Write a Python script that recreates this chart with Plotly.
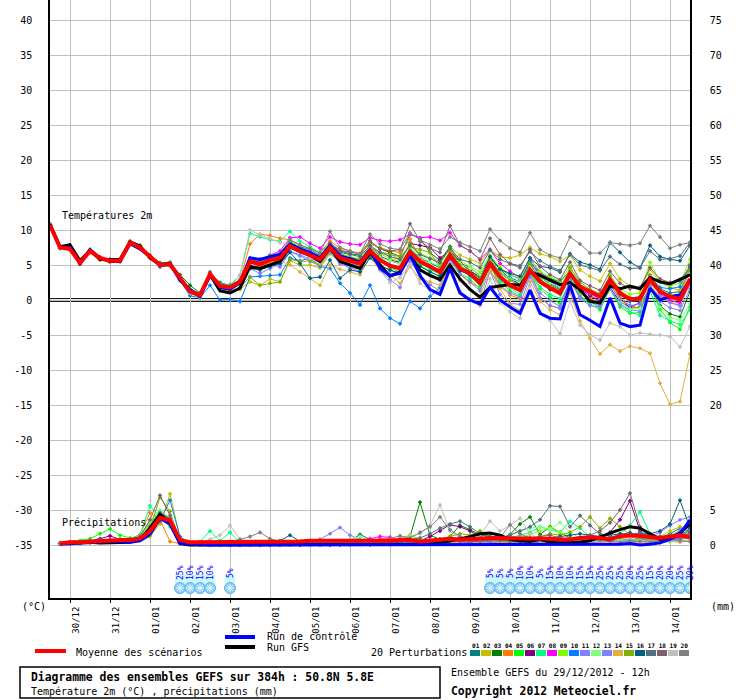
import pandas as pd
import plotly.graph_objects as go

MONO = 'DejaVu Sans Mono'

# GEFS run of 29/12/2012 12h, one step every 6h up to 384h
times = pd.date_range('2012-12-29 12:00', periods=65, freq='6h')
day_ticks = pd.date_range('2012-12-30', '2013-01-14', freq='D')
day_labels = [d.strftime('%d/%m') for d in day_ticks]

temp_ticks = [40, 35, 30, 25, 20, 15, 10, 5, 0, -5, -10, -15, -20, -25, -30, -35]
right_ticks = [75, 70, 65, 60, 55, 50, 45, 40, 35, 30, 25, 20, 5, 0]

# ---- 2m temperature (°C) ----
mean_t = [10.7, 7.5, 7.3, 5.3, 7.0, 6.0, 5.6, 5.6, 8.2, 7.5, 6.2, 5.0, 5.1,
          3.1, 1.2, 0.7, 3.7, 2.0, 1.8, 2.6, 5.5, 5.1, 5.7, 6.0, 7.7, 7.0,
          6.4, 5.8, 7.5, 6.0, 5.6, 5.2, 7.0, 5.7, 4.9, 4.5, 6.9, 5.5, 4.8,
          4.0, 6.4, 4.5, 3.8, 2.4, 5.2, 3.3, 2.1, 1.4, 4.3, 2.6, 1.7, 1.0,
          3.8, 1.9, 1.2, 0.5, 2.9, 1.0, 0.1, 0.2, 2.9, 1.2, 0.5, 0.1, 3.0]
gfs_t = [10.8, 7.6, 7.9, 5.6, 7.1, 5.8, 5.8, 5.8, 8.3, 7.7, 6.0, 5.0, 5.2,
         3.0, 1.4, 0.6, 3.6, 1.3, 1.0, 1.7, 4.8, 4.5, 5.0, 5.5, 7.6, 6.9,
         6.4, 5.5, 7.4, 5.5, 5.0, 4.5, 6.8, 5.0, 3.4, 4.0, 6.4, 4.3, 3.5,
         2.9, 5.0, 3.0, 1.5, 0.4, 1.8, 2.0, 2.2, 2.1, 4.0, 3.5, 2.8, 2.2,
         2.5, 1.5, -0.2, -0.4, 2.0, 1.6, 2.0, 1.6, 3.2, 2.6, 2.3, 2.9, 3.6]
ctrl_t = [10.8, 7.5, 7.5, 5.2, 7.2, 6.0, 5.5, 5.5, 8.0, 7.3, 6.2, 5.0, 5.2,
          2.8, 1.5, 0.5, 3.5, 1.8, 1.5, 2.5, 6.0, 5.8, 6.2, 6.5, 8.0, 7.3,
          6.8, 6.0, 7.8, 6.3, 5.9, 5.4, 7.2, 4.5, 3.5, 3.8, 6.5, 3.5, 1.5,
          0.8, 4.5, 1.0, 0.0, -0.6, 1.8, 0.0, -1.0, -1.9, 1.4, -1.9, -2.6, -2.7,
          2.1, -2.1, -2.9, -3.8, 0.3, -3.3, -3.8, -3.6, 1.7, 0.0, 0.5, 0.7, 2.9]

t01 = [10.6, 7.6, 7.2, 5.4, 7.1, 5.9, 5.7, 5.5, 8.1, 7.4, 6.3, 5.1, 5.0,
       3.2, 1.5, 0.9, 3.9, 2.4, 2.1, 2.9, 6.0, 5.8, 6.3, 6.5, 8.1, 7.6,
       7.2, 6.4, 7.9, 6.6, 6.1, 5.7, 7.6, 6.3, 5.6, 5.2, 7.3, 6.0, 5.3,
       4.6, 6.9, 5.3, 4.6, 3.5, 6.1, 4.4, 3.6, 3.0, 5.3, 3.9, 3.1, 2.6,
       4.2, 2.0, 1.2, 0.4, 3.0, 1.0, 0.2, 0.5, 3.4, 1.6, 1.0, 1.2, 4.6]
t02 = [10.8, 7.4, 7.4, 5.2, 6.9, 6.1, 5.5, 5.7, 8.3, 7.6, 6.1, 4.9, 5.2,
       3.0, 0.9, 0.4, 3.4, 1.6, 1.2, 1.5, 2.6, 2.1, 3.0, 2.6, 5.6, 5.0,
       5.0, 4.6, 6.6, 5.4, 5.2, 5.0, 7.5, 6.8, 6.6, 5.8, 7.8, 6.5, 6.0,
       5.5, 7.6, 6.4, 5.8, 5.3, 7.2, 6.2, 6.0, 6.4, 7.5, 6.6, 6.2, 5.5,
       6.4, 4.3, 3.4, 2.7, 5.2, 3.0, 2.0, 1.5, 4.4, 2.5, 1.8, 1.4, 4.8]
t03 = [10.7, 7.5, 7.5, 5.4, 7.2, 6.0, 5.8, 5.8, 8.4, 7.8, 6.4, 5.3, 5.4,
       3.6, 2.1, 1.0, 3.8, 2.5, 2.0, 2.4, 5.0, 4.7, 5.2, 5.8, 8.3, 7.3,
       6.7, 6.2, 8.1, 7.0, 6.6, 6.4, 8.2, 7.3, 6.8, 6.2, 9.4, 8.8, 6.8,
       5.6, 7.6, 5.4, 4.1, 3.4, 6.1, 4.4, 3.0, 2.4, 4.9, 3.3, 2.2, 1.4,
       3.6, 1.2, 0.2, -0.6, 2.3, 0.3, -1.2, -1.0, 2.0, -0.8, -2.0, -2.4, 1.2]
t04 = [10.7, 7.4, 7.2, 5.3, 6.8, 5.7, 5.4, 5.5, 8.0, 7.3, 6.0, 4.8, 5.0,
       2.9, 1.0, 0.6, 3.5, 1.8, 1.6, 2.8, 8.0, 9.4, 9.2, 8.8, 8.6, 7.8,
       7.4, 6.8, 8.4, 7.4, 7.0, 6.6, 8.0, 7.5, 7.0, 6.8, 8.7, 6.0, 4.9,
       4.3, 6.6, 3.6, 2.5, 1.8, 5.0, 2.0, 0.7, 0.2, 4.4, 0.3, -0.8, -1.2,
       2.6, 0.9, 0.3, -0.4, 2.2, 0.4, -0.8, -1.2, 2.1, 0.5, -0.3, -0.8, 2.4]
t05 = [10.6, 7.5, 7.3, 5.2, 7.1, 6.1, 5.6, 5.7, 8.2, 7.6, 6.1, 4.9, 5.1,
       3.0, 1.1, 0.5, 3.6, 2.0, 1.7, 2.5, 5.8, 5.5, 6.1, 6.4, 8.6, 7.4,
       6.7, 6.1, 7.9, 6.2, 5.8, 5.4, 7.1, 5.6, 4.6, 4.0, 6.5, 4.9, 4.1,
       3.3, 5.9, 3.8, 3.0, 1.6, 4.8, 2.6, 1.3, 0.5, 3.9, 1.6, 0.4, -0.5,
       2.8, 0.4, -0.6, -1.4, 1.6, -1.0, -1.9, -1.8, 2.0, -1.3, -3.2, -4.2, -1.0]
t06 = [10.8, 7.6, 7.4, 5.3, 7.0, 6.0, 5.6, 5.6, 8.2, 7.5, 6.2, 5.0, 5.1,
       3.1, 1.3, 0.8, 3.8, 2.2, 1.9, 2.7, 5.7, 5.3, 5.9, 6.2, 7.9, 7.1,
       6.6, 6.0, 7.6, 6.2, 5.9, 5.6, 7.3, 6.1, 5.7, 5.4, 8.1, 7.8, 7.5,
       6.0, 7.1, 5.4, 4.3, 3.0, 5.6, 4.0, 3.0, 2.2, 5.3, 2.8, 1.5, 0.9,
       4.3, 1.5, 0.6, -0.2, 1.8, -0.3, -1.0, -0.4, 3.4, 1.2, 0.5, 0.2, 2.8]
t07 = [10.6, 7.4, 7.2, 5.4, 7.0, 6.0, 5.7, 5.6, 8.1, 7.5, 6.2, 5.1, 5.1,
       3.2, 1.5, 0.8, 4.0, 2.3, 2.2, 3.5, 9.5, 9.0, 8.6, 8.4, 9.8, 8.4,
       7.6, 6.8, 8.0, 6.4, 6.0, 5.5, 7.2, 5.8, 5.0, 4.4, 7.0, 5.3, 4.4,
       3.7, 6.3, 4.4, 3.4, 2.0, 5.0, 2.8, 1.8, 0.8, 3.9, 1.9, 0.8, 0.2,
       3.4, 0.6, -0.3, -1.0, 1.7, -0.7, -1.7, -2.2, 1.3, -2.2, -3.0, -3.5, -1.4]
t08 = [10.8, 7.5, 7.3, 5.2, 6.9, 5.9, 5.5, 5.7, 8.1, 7.4, 6.2, 5.0, 5.2,
       3.3, 1.2, 0.9, 3.6, 2.1, 1.9, 2.6, 5.9, 5.6, 6.4, 7.0, 8.9, 9.0,
       8.1, 7.4, 9.0, 8.3, 8.0, 7.9, 8.9, 8.5, 8.4, 8.6, 9.4, 8.9, 9.0,
       8.5, 9.6, 7.8, 7.0, 5.8, 7.2, 5.2, 4.1, 3.2, 6.0, 3.8, 2.6, 1.8,
       3.9, 1.6, 0.9, 0.1, 3.0, 1.0, 0.3, 0.1, 3.2, 0.8, 0.0, -0.5, 2.3]
t09 = [10.7, 7.5, 7.4, 5.3, 7.0, 6.0, 5.6, 5.6, 8.2, 7.5, 6.2, 5.0, 5.1,
       3.1, 1.3, 0.7, 3.7, 2.0, 1.8, 2.7, 5.6, 5.3, 5.8, 6.1, 7.8, 7.2,
       6.6, 6.0, 7.8, 6.5, 6.2, 5.9, 7.8, 6.6, 5.9, 5.6, 8.0, 6.7, 6.0,
       5.2, 7.4, 5.6, 4.8, 4.0, 6.4, 4.7, 3.6, 3.1, 5.8, 4.1, 3.3, 2.7,
       4.8, 2.4, 1.2, 0.6, 3.6, 1.6, 0.8, 1.0, 5.4, 2.6, 2.0, 2.4, 5.8]
t10 = [10.7, 7.5, 7.3, 5.1, 7.0, 6.0, 5.5, 5.5, 8.0, 7.3, 6.0, 4.8, 4.9,
       2.8, 0.6, 0.3, 2.1, 0.0, 0.1, -0.2, 3.3, 3.4, 3.5, 3.6, 6.0, 5.6,
       6.0, 4.8, 4.5, 2.4, 1.0, -0.7, 2.1, -1.2, -2.6, -3.4, -0.2, -1.2, 0.5,
       1.8, 5.7, 4.2, 3.5, 2.6, 5.5, 3.9, 3.2, 2.6, 5.6, 3.4, 2.4, 1.6,
       4.0, 2.0, 1.0, 0.3, 2.6, 0.8, -0.2, 0.0, 3.4, 1.8, 1.6, 1.9, 5.0]
t11 = [10.8, 7.6, 7.3, 5.4, 7.1, 6.1, 5.7, 5.6, 8.2, 7.5, 6.2, 5.0, 5.2,
       3.0, 1.1, 0.6, 3.8, 2.0, 1.6, 2.4, 5.5, 4.8, 5.2, 4.7, 6.9, 6.3,
       5.5, 4.9, 6.8, 5.2, 4.6, 4.1, 6.6, 4.3, 2.9, 1.8, 5.6, 3.6, 2.2,
       1.3, 4.9, 1.1, 0.1, -0.6, 4.1, 0.8, -0.5, -0.6, 3.3, 0.3, -0.8, -1.2,
       3.0, 0.2, -0.8, -1.0, 1.6, -0.6, -1.4, -1.6, 2.0, -0.2, -1.1, -1.5, 1.6]
t12 = [10.6, 7.4, 7.3, 5.3, 7.0, 6.0, 5.6, 5.6, 8.2, 7.5, 6.1, 5.0, 5.1,
       3.1, 1.3, 0.7, 3.6, 2.0, 1.8, 2.7, 5.4, 5.0, 5.6, 5.9, 7.5, 6.8,
       6.3, 5.7, 7.3, 5.9, 5.5, 5.1, 7.3, 6.1, 5.6, 5.2, 7.5, 6.3, 5.4,
       4.8, 6.9, 5.2, 4.5, 3.6, 5.8, 4.1, 3.0, 2.5, 4.9, 3.2, 2.4, 1.9,
       4.4, 2.2, 1.1, 0.4, 2.6, -0.2, -1.3, -1.2, 3.6, -1.0, -2.5, -2.9, -0.5]
t13 = [10.7, 7.5, 7.3, 5.3, 7.0, 6.0, 5.6, 5.6, 8.1, 7.4, 6.2, 5.0, 5.0,
       3.0, 1.0, 0.5, 3.4, 1.8, 1.5, 2.2, 4.5, 3.8, 4.5, 5.2, 7.0, 6.4,
       5.8, 5.3, 7.2, 5.6, 5.2, 4.8, 6.5, 5.0, 4.2, 3.8, 5.8, 4.2, 3.5,
       2.8, 5.6, 3.7, 2.6, 1.3, 4.2, 2.1, 1.0, 0.4, 3.5, 1.0, -0.1, -0.9,
       2.8, 0.4, -0.2, -0.9, 2.2, 0.0, -0.8, -0.6, 3.3, 0.6, -0.4, -0.8, 2.6]
t14 = [10.7, 7.4, 7.2, 5.3, 6.9, 5.9, 5.5, 5.5, 8.0, 7.3, 6.0, 4.9, 5.0,
       2.9, 1.0, 0.4, 3.4, 1.8, 1.5, 2.2, 5.0, 4.8, 5.3, 5.6, 5.0, 4.0,
       3.1, 2.1, 5.0, 4.4, 4.0, 3.6, 6.1, 4.3, 3.6, 2.4, 4.8, 3.0, 2.6,
       2.1, 5.0, 2.8, 1.5, 0.6, 4.2, 1.6, -0.6, -1.5, 2.6, -0.2, -1.4, -2.1,
       1.0, -3.0, -5.5, -7.7, -6.4, -7.3, -6.6, -6.9, -7.6, -11.9, -14.9, -14.5, -7.7]
t15 = [10.7, 7.5, 7.3, 5.3, 7.0, 6.0, 5.6, 5.6, 8.1, 7.5, 6.2, 5.0, 5.1,
       3.2, 1.4, 0.8, 3.4, 1.5, 1.2, 1.8, 3.3, 2.1, 2.4, 2.6, 5.8, 5.5,
       5.6, 5.0, 7.0, 6.2, 6.0, 5.8, 7.4, 6.8, 6.5, 6.2, 7.6, 7.2, 6.8,
       4.6, 7.0, 5.0, 4.0, 3.0, 6.0, 3.8, 2.8, 2.0, 5.2, 3.0, 2.0, 1.4,
       4.6, 2.6, 1.5, 0.9, 3.4, 1.2, 0.3, 0.0, 3.6, 1.4, 0.6, 0.8, 4.2]
t16 = [10.6, 7.4, 7.2, 5.2, 7.0, 6.0, 5.6, 5.6, 8.2, 7.5, 6.1, 4.8, 5.0,
       3.0, 1.4, 0.6, 3.6, 2.0, 1.6, 2.3, 4.5, 4.3, 4.8, 5.2, 6.8, 5.2,
       3.1, 3.3, 5.7, 3.1, 4.3, 4.0, 6.0, 4.9, 4.3, 3.8, 6.2, 4.8, 4.0,
       3.4, 6.0, 4.2, 3.6, 2.8, 6.2, 4.4, 3.8, 3.4, 6.0, 4.8, 4.6, 4.0,
       6.6, 5.4, 5.0, 4.4, 8.2, 6.8, 5.4, 4.6, 7.8, 6.2, 5.8, 5.6, 7.8]
t17 = [10.7, 7.5, 7.3, 5.3, 7.0, 6.0, 5.6, 5.6, 8.2, 7.5, 6.2, 5.0, 5.1,
       3.1, 1.2, 0.7, 3.7, 2.0, 1.8, 2.6, 5.6, 5.4, 6.0, 6.2, 7.9, 7.3,
       6.8, 6.3, 8.0, 6.8, 6.5, 6.2, 7.8, 6.8, 6.2, 5.8, 7.9, 6.5, 5.9,
       5.3, 7.4, 5.8, 5.4, 4.6, 7.1, 5.8, 5.2, 4.9, 6.9, 5.6, 4.8, 4.2,
       6.5, 5.0, 4.6, 4.2, 6.2, 5.1, 4.5, 4.6, 7.0, 5.8, 5.9, 6.3, 8.2]
t18 = [10.8, 7.6, 7.4, 5.3, 7.1, 6.0, 5.7, 5.6, 8.3, 7.6, 6.2, 5.0, 5.2,
       3.2, 1.4, 0.8, 3.8, 2.2, 1.9, 2.7, 5.7, 5.3, 5.9, 6.2, 7.9, 7.3,
       6.8, 6.3, 8.1, 7.1, 6.8, 6.6, 8.5, 7.3, 7.0, 7.2, 10.9, 8.4, 7.4,
       6.8, 10.6, 7.8, 7.0, 5.8, 8.8, 6.5, 5.2, 4.6, 7.2, 4.8, 3.6, 2.9,
       5.4, 2.8, 2.0, 1.4, 4.1, 2.4, 1.6, 1.8, 4.6, 3.0, 2.5, 2.7, 4.8]
t19 = [10.7, 7.5, 7.3, 5.3, 7.0, 6.0, 5.6, 5.6, 8.2, 7.5, 6.2, 5.0, 5.1,
       3.1, 1.3, 0.8, 3.9, 2.2, 1.9, 3.6, 10.0, 9.3, 8.8, 8.2, 8.0, 7.0,
       6.0, 5.3, 7.2, 5.6, 5.2, 4.9, 7.3, 4.2, 2.5, 3.2, 5.0, 2.4, 1.4,
       1.3, 5.3, 1.3, 0.2, -0.8, 3.0, -0.4, -1.7, -2.6, 2.1, -1.6, -2.9, -4.8,
       -0.2, -3.6, -5.0, -5.7, -3.3, -3.8, -5.0, -4.7, -4.9, -5.0, -5.2, -6.7, -3.8]
t20 = [10.8, 7.6, 7.4, 5.4, 7.1, 6.1, 5.6, 5.7, 8.3, 7.6, 6.3, 5.1, 5.2,
       3.3, 1.5, 1.0, 4.0, 2.3, 2.1, 2.9, 6.0, 5.8, 6.4, 6.7, 8.6, 7.9,
       7.3, 6.7, 9.8, 7.5, 7.0, 6.6, 9.4, 8.0, 7.4, 7.2, 9.6, 8.6, 7.9,
       7.3, 9.0, 8.2, 7.6, 7.0, 10.1, 8.5, 7.4, 6.8, 9.6, 7.2, 6.4, 6.0,
       9.0, 8.0, 6.7, 6.7, 8.2, 8.0, 7.8, 8.1, 10.6, 9.0, 7.4, 7.9, 8.2]

# ---- precipitation (mm per 6h), from +6h ----
mean_r = [0.2, 0.4, 0.4, 0.5, 0.6, 0.7, 0.7, 0.7, 0.9, 2.0, 3.9, 3.5, 0.7, 0.4, 0.4, 0.4,
          0.4, 0.5, 0.5, 0.4, 0.5, 0.5, 0.5, 0.5, 0.5, 0.6, 0.6, 0.5, 0.5, 0.5, 0.6, 0.6,
          0.6, 0.6, 0.7, 0.7, 0.5, 0.6, 0.7, 0.9, 0.8, 0.8, 0.9, 1.0, 1.0, 1.0, 1.0, 1.0,
          1.0, 0.9, 0.8, 0.8, 1.0, 1.1, 1.0, 0.8, 1.3, 1.4, 1.3, 1.1, 1.0, 1.2, 1.4, 1.1]
gfs_r = [0.2, 0.3, 0.3, 0.4, 0.3, 0.3, 0.4, 0.4, 0.8, 2.4, 4.4, 3.2, 0.2, 0.0, 0.0, 0.0,
         0.0, 0.0, 0.0, 0.0, 0.0, 0.0, 0.0, 0.0, 0.0, 0.0, 0.0, 0.0, 0.0, 0.0, 0.0, 0.0,
         0.0, 0.0, 0.0, 0.0, 0.0, 0.1, 0.3, 0.6, 0.8, 1.2, 1.6, 1.7, 1.4, 0.8, 0.6, 0.5,
         0.8, 0.4, 0.3, 0.3, 0.4, 0.6, 1.2, 1.7, 2.2, 2.6, 2.4, 1.6, 0.8, 1.0, 1.7, 3.0]
ctrl_r = [0.1, 0.2, 0.2, 0.3, 0.4, 0.5, 0.5, 0.4, 0.6, 1.5, 3.8, 3.0, 0.2, 0.1, 0.0, 0.0,
          0.0, 0.0, 0.0, 0.1, 0.0, 0.0, 0.0, 0.1, 0.0, 0.0, 0.1, 0.0, 0.0, 0.0, 0.0, 0.0,
          0.0, 0.1, 0.1, 0.0, 0.0, 0.0, 0.0, 0.0, 0.0, 0.0, 0.0, 0.0, 0.0, 0.0, 0.0, 0.0,
          0.0, 0.0, 0.0, 0.0, 0.1, 0.1, 0.0, 0.0, 0.1, 0.2, 0.0, 0.1, 0.3, 0.8, 1.6, 3.6]

r01 = [0.2, 0.3, 0.4, 0.5, 0.6, 0.6, 0.7, 0.6, 1.0, 2.5, 4.8, 3.5, 0.4, 0.3, 0.2, 0.2,
       0.2, 0.3, 0.2, 0.1, 0.2, 0.3, 0.2, 0.2, 0.3, 0.4, 0.3, 0.2, 0.3, 0.6, 1.5, 0.8,
       0.4, 0.5, 0.3, 0.2, 0.3, 0.5, 0.8, 0.6, 0.4, 0.3, 0.5, 0.7, 0.4, 0.3, 0.5, 0.6,
       0.8, 0.5, 0.4, 0.6, 1.0, 1.2, 0.8, 0.6, 1.4, 1.8, 1.2, 0.8, 1.0, 1.6, 2.4, 2.0]
r02 = [0.2, 0.3, 0.3, 0.4, 0.5, 0.5, 0.6, 0.6, 0.7, 1.2, 3.0, 7.3, 1.0, 0.2, 0.1, 0.1,
       0.1, 0.1, 0.0, 0.1, 0.1, 0.1, 0.0, 0.1, 0.2, 0.2, 0.1, 0.1, 0.0, 0.1, 0.1, 0.0,
       0.1, 0.2, 0.1, 0.1, 0.2, 0.3, 0.2, 0.4, 0.5, 0.3, 0.2, 0.6, 0.8, 0.5, 0.4, 0.6,
       0.5, 0.3, 0.4, 0.2, 0.3, 0.5, 0.8, 1.2, 1.0, 0.8, 0.6, 0.8, 1.2, 2.0, 2.6, 1.8]
r03 = [0.1, 0.2, 0.3, 0.4, 0.5, 0.6, 0.6, 0.7, 1.2, 3.2, 4.5, 3.0, 0.3, 0.2, 0.1, 0.1,
       0.1, 0.2, 0.1, 0.1, 0.0, 0.1, 0.1, 0.2, 0.1, 0.2, 0.2, 0.1, 0.1, 0.2, 0.1, 0.2,
       0.3, 0.5, 0.4, 1.2, 6.1, 1.4, 0.8, 1.2, 2.8, 2.2, 1.4, 1.2, 0.8, 1.5, 3.0, 4.0,
       1.5, 2.6, 1.8, 1.0, 0.6, 0.5, 0.8, 0.6, 0.4, 0.6, 0.9, 0.6, 0.5, 0.8, 1.2, 1.5]
r04 = [0.3, 0.4, 0.4, 0.5, 0.6, 0.8, 0.8, 0.9, 1.5, 4.6, 3.6, 0.5, 0.2, 0.1, 0.1, 0.1,
       0.0, 0.1, 0.1, 0.0, 0.1, 0.2, 0.1, 0.1, 0.1, 0.1, 0.0, 0.1, 0.2, 0.1, 0.1, 0.2,
       0.9, 1.0, 0.8, 0.7, 0.5, 0.3, 0.4, 0.6, 0.5, 0.3, 0.2, 0.4, 0.3, 0.2, 0.3, 0.5,
       0.6, 0.4, 0.3, 0.5, 0.8, 0.6, 0.4, 0.5, 0.9, 1.2, 0.8, 0.6, 0.4, 0.6, 0.8, 1.0]
r05 = [0.3, 0.5, 0.6, 0.9, 1.6, 2.3, 1.4, 1.0, 1.2, 3.5, 4.8, 3.8, 0.4, 0.2, 0.2, 0.1,
       0.2, 0.1, 0.1, 0.2, 0.2, 0.1, 0.1, 0.2, 0.2, 0.1, 0.2, 0.3, 0.2, 0.2, 0.3, 0.2,
       0.3, 0.4, 0.6, 1.4, 0.8, 0.5, 0.4, 0.3, 0.6, 0.9, 0.7, 0.5, 0.4, 0.6, 0.8, 0.6,
       0.4, 0.6, 0.8, 0.5, 0.3, 0.4, 0.6, 0.8, 0.5, 0.4, 0.6, 0.9, 0.7, 0.5, 0.8, 1.2]
r06 = [0.2, 0.3, 0.4, 0.6, 0.9, 1.3, 0.8, 0.6, 0.8, 2.2, 4.2, 3.4, 0.3, 0.2, 0.1, 0.1,
       0.1, 0.0, 0.1, 0.1, 0.0, 0.1, 0.1, 0.1, 0.0, 0.1, 0.1, 0.0, 0.1, 0.1, 0.2, 0.1,
       0.2, 0.3, 0.2, 0.4, 0.6, 1.2, 2.0, 2.9, 2.6, 2.0, 1.2, 0.6, 0.4, 0.3, 0.5, 0.7,
       0.6, 0.8, 0.5, 0.4, 0.6, 0.8, 1.0, 1.8, 3.6, 6.3, 2.0, 0.8, 0.6, 0.9, 1.4, 1.8]
r07 = [0.2, 0.3, 0.4, 0.5, 0.6, 0.7, 0.8, 0.9, 1.4, 5.6, 4.0, 2.6, 0.4, 0.3, 0.5, 2.0,
       0.6, 1.8, 0.4, 0.2, 0.3, 0.2, 0.1, 0.2, 0.2, 0.3, 0.2, 0.1, 0.2, 0.3, 0.2, 0.3,
       0.2, 0.3, 0.4, 0.3, 0.5, 0.4, 0.6, 0.8, 1.0, 0.8, 0.6, 0.9, 1.2, 1.0, 1.4, 1.8,
       2.6, 2.2, 1.8, 3.4, 2.4, 1.2, 0.8, 1.0, 1.6, 2.8, 4.7, 1.6, 0.9, 0.7, 0.8, 1.2]
r08 = [0.2, 0.3, 0.3, 0.4, 0.5, 0.6, 0.6, 0.7, 0.9, 2.8, 4.4, 3.2, 0.3, 0.2, 0.1, 0.1,
       0.1, 0.1, 0.2, 0.1, 0.1, 0.1, 0.0, 0.1, 0.1, 0.3, 0.2, 0.1, 0.2, 0.4, 0.6, 0.9,
       1.2, 1.1, 0.6, 0.4, 0.3, 0.2, 0.4, 0.6, 0.5, 0.4, 0.6, 0.8, 0.6, 0.5, 0.4, 0.6,
       0.8, 0.6, 0.5, 0.4, 0.6, 0.4, 0.3, 0.5, 0.7, 0.9, 0.6, 0.4, 0.5, 0.7, 0.9, 1.2]
r09 = [0.2, 0.3, 0.4, 0.5, 0.5, 0.6, 0.7, 0.8, 1.1, 3.0, 4.6, 3.8, 0.5, 0.2, 0.1, 0.1,
       0.1, 0.1, 0.1, 0.2, 0.1, 0.1, 0.1, 0.2, 0.1, 0.2, 0.1, 0.1, 0.1, 0.2, 0.2, 0.1,
       0.3, 0.6, 1.0, 1.4, 0.8, 0.6, 0.4, 0.5, 0.6, 0.5, 0.7, 0.9, 1.0, 1.2, 1.0, 1.5,
       2.0, 2.5, 1.8, 1.2, 0.8, 0.6, 0.5, 0.7, 1.0, 1.4, 1.2, 0.8, 0.7, 0.9, 1.6, 2.0]
r10 = [0.2, 0.3, 0.4, 0.5, 0.6, 0.6, 0.7, 0.7, 0.8, 1.6, 3.4, 6.4, 1.2, 0.2, 0.1, 0.1,
       0.1, 0.1, 0.0, 0.1, 0.1, 0.0, 0.1, 0.1, 0.1, 0.2, 0.1, 0.1, 0.1, 0.1, 0.2, 0.1,
       0.2, 0.1, 0.2, 0.3, 0.2, 0.3, 0.4, 0.3, 0.2, 0.4, 0.6, 0.5, 0.4, 0.6, 0.5, 0.3,
       0.4, 0.6, 0.5, 0.3, 0.4, 0.6, 0.5, 0.4, 0.6, 0.8, 0.6, 0.5, 0.6, 0.8, 1.2, 2.4]
r11 = [0.2, 0.3, 0.3, 0.4, 0.5, 0.6, 0.7, 0.7, 0.9, 2.6, 4.2, 3.6, 0.4, 0.2, 0.2, 0.1,
       0.1, 0.2, 0.2, 0.1, 0.2, 0.3, 0.2, 0.3, 0.4, 0.6, 0.8, 1.6, 2.5, 1.4, 0.8, 0.5,
       0.4, 0.3, 0.2, 0.3, 0.4, 0.3, 0.2, 0.3, 0.2, 0.3, 0.4, 0.3, 0.2, 0.3, 0.4, 0.3,
       0.2, 0.3, 0.4, 0.3, 0.2, 0.4, 0.3, 0.5, 0.6, 0.5, 0.8, 1.2, 1.8, 2.8, 3.6, 4.0]
r12 = [0.2, 0.3, 0.4, 0.5, 0.6, 0.7, 0.7, 0.8, 1.0, 3.4, 5.0, 3.2, 0.4, 0.2, 0.1, 0.1,
       0.1, 0.1, 0.1, 0.2, 0.2, 0.1, 0.1, 0.1, 0.2, 0.2, 0.3, 0.2, 0.4, 0.8, 1.2, 0.6,
       0.4, 0.5, 0.4, 0.3, 0.2, 0.3, 0.4, 0.6, 0.8, 0.6, 0.4, 0.6, 0.9, 1.4, 2.0, 2.4,
       2.6, 2.2, 3.2, 1.8, 1.0, 0.8, 0.6, 0.5, 0.8, 1.0, 0.7, 0.6, 0.8, 1.4, 2.0, 1.5]
r13 = [0.2, 0.3, 0.4, 0.4, 0.5, 0.6, 0.6, 0.7, 0.9, 2.2, 3.8, 3.0, 0.3, 0.2, 0.2, 0.1,
       0.1, 0.1, 0.1, 0.1, 0.1, 0.2, 0.1, 0.1, 0.2, 0.1, 0.2, 0.1, 0.2, 0.2, 0.3, 0.2,
       0.3, 0.4, 0.3, 0.2, 0.3, 0.4, 0.6, 0.5, 0.4, 0.3, 0.5, 0.6, 0.5, 0.4, 0.3, 0.5,
       0.6, 0.4, 0.5, 0.6, 0.8, 1.0, 0.8, 0.6, 0.5, 0.7, 0.9, 0.8, 0.6, 1.0, 2.2, 3.2]
r14 = [0.3, 0.4, 0.4, 0.5, 0.6, 0.7, 0.8, 0.8, 1.0, 2.8, 4.3, 3.4, 0.4, 0.2, 0.1, 0.0,
       0.0, 0.1, 0.1, 0.0, 0.1, 0.1, 0.0, 0.1, 0.1, 0.0, 0.1, 0.1, 0.2, 0.1, 0.1, 0.2,
       0.3, 0.2, 0.4, 0.3, 0.2, 0.4, 0.5, 0.4, 0.3, 0.2, 0.4, 0.5, 0.4, 0.3, 0.2, 0.3,
       0.2, 0.4, 0.3, 0.2, 0.3, 0.5, 0.4, 0.3, 0.5, 0.4, 0.3, 0.2, 0.3, 0.5, 0.4, 0.6]
r15 = [0.2, 0.3, 0.3, 0.4, 0.5, 0.5, 0.6, 0.6, 0.8, 2.4, 6.8, 4.8, 0.6, 0.2, 0.1, 0.1,
       0.1, 0.1, 0.2, 0.1, 0.1, 0.2, 0.1, 0.1, 0.2, 0.2, 0.1, 0.2, 0.1, 0.2, 0.3, 0.2,
       0.2, 0.3, 0.2, 0.3, 0.4, 0.5, 0.8, 1.2, 1.6, 1.4, 2.0, 1.2, 0.6, 0.4, 0.5, 0.8,
       1.2, 1.6, 1.4, 1.8, 2.6, 4.0, 2.4, 3.8, 2.6, 1.4, 0.8, 0.6, 0.9, 1.4, 1.8, 1.2]
r16 = [0.2, 0.3, 0.3, 0.4, 0.5, 0.6, 0.6, 0.7, 0.9, 2.4, 4.0, 3.2, 0.3, 0.2, 0.1, 0.1,
       0.1, 0.1, 0.2, 0.2, 0.3, 0.4, 0.6, 1.4, 0.5, 0.3, 0.2, 0.3, 0.2, 0.3, 0.2, 0.3,
       0.3, 0.2, 0.4, 0.5, 0.4, 0.3, 0.5, 0.6, 0.8, 0.6, 0.5, 0.7, 0.8, 0.6, 0.5, 0.7,
       0.8, 1.0, 1.2, 1.4, 1.6, 1.4, 1.2, 1.4, 1.6, 1.5, 1.6, 1.6, 2.0, 3.0, 6.4, 2.4]
r17 = [0.2, 0.3, 0.4, 0.5, 0.5, 0.6, 0.7, 0.8, 1.0, 2.6, 4.6, 3.8, 0.4, 0.2, 0.1, 0.1,
       0.1, 0.2, 0.1, 0.1, 0.2, 0.1, 0.2, 0.2, 0.1, 0.2, 0.3, 0.2, 0.1, 0.2, 0.2, 0.3,
       0.4, 0.5, 0.6, 0.8, 1.0, 1.6, 2.4, 3.0, 3.4, 2.6, 1.6, 1.2, 1.0, 1.4, 2.0, 2.6,
       3.6, 5.6, 5.5, 2.6, 4.2, 2.8, 1.6, 1.2, 1.0, 1.4, 1.8, 1.4, 1.2, 1.0, 1.4, 1.6]
r18 = [0.2, 0.3, 0.4, 0.5, 0.6, 0.7, 0.7, 0.8, 1.2, 3.6, 7.1, 4.2, 0.4, 0.2, 0.1, 0.1,
       0.1, 0.1, 0.1, 0.2, 0.1, 0.1, 0.2, 0.1, 0.1, 0.2, 0.1, 0.2, 0.1, 0.1, 0.2, 0.1,
       0.2, 0.3, 0.2, 0.4, 0.5, 0.6, 0.8, 0.6, 0.5, 0.4, 0.6, 0.8, 0.7, 0.6, 0.8, 1.0,
       1.2, 1.4, 1.0, 0.8, 1.0, 1.4, 2.0, 3.2, 5.0, 7.4, 2.6, 1.4, 1.0, 1.2, 1.6, 2.0]
r19 = [0.2, 0.3, 0.4, 0.4, 0.5, 0.6, 0.6, 0.7, 0.9, 2.2, 4.0, 3.4, 0.6, 0.4, 0.3, 0.8,
       1.4, 2.8, 0.8, 0.4, 0.2, 0.3, 0.2, 0.1, 0.2, 0.2, 0.1, 0.2, 0.1, 0.2, 0.3, 0.4,
       0.6, 0.8, 1.0, 1.2, 1.6, 2.8, 5.7, 2.0, 1.0, 0.8, 1.4, 3.4, 2.0, 2.8, 3.8, 1.6,
       0.8, 0.5, 0.4, 0.3, 0.4, 0.6, 0.5, 0.4, 0.6, 0.8, 0.6, 0.5, 0.4, 0.6, 0.5, 0.8]
r20 = [0.2, 0.3, 0.4, 0.5, 0.6, 0.6, 0.7, 0.8, 1.0, 2.6, 4.6, 3.6, 0.5, 0.3, 0.2, 0.1,
       0.2, 0.4, 0.8, 1.2, 1.8, 0.9, 0.5, 0.4, 0.3, 0.2, 0.3, 0.2, 0.3, 0.4, 0.3, 0.2,
       0.6, 0.9, 1.3, 1.0, 1.8, 2.6, 4.0, 2.2, 1.2, 0.8, 0.6, 0.5, 1.0, 2.9, 1.6, 1.0,
       0.8, 0.6, 0.5, 0.7, 0.9, 0.8, 0.6, 0.5, 0.4, 0.6, 0.5, 0.4, 0.6, 0.8, 0.6, 0.5]

# snow probability labels (step index, %)
snow_steps = [13, 14, 15, 16, 18,
              44, 45, 46, 47, 48, 49, 50, 51, 52, 53, 54, 55, 56, 57, 58, 59, 60, 61, 62, 63, 64]
snow_pct = [25, 10, 15, 10, 5,
            5, 5, 5, 10, 10, 5, 15, 10, 10, 15, 15, 25, 25, 25, 20, 25, 15, 20, 20, 25, 20]

pert_t = [t01, t02, t03, t04, t05, t06, t07, t08, t09, t10,
          t11, t12, t13, t14, t15, t16, t17, t18, t19, t20]
pert_r = [r01, r02, r03, r04, r05, r06, r07, r08, r09, r10,
          r11, r12, r13, r14, r15, r16, r17, r18, r19, r20]
pert_colors = ['#008080', '#c0c000', '#008000', '#ff8000', '#00ff00',
               '#800080', '#00ff80', '#ff00ff', '#80ff00', '#0080ff',
               '#8080ff', '#80ff80', '#8080ff', '#e0b040', '#80b000',
               '#006080', '#507080', '#806070', '#c0c0c0', '#808080']


# pixel -> paper helpers (plot area is 640x598 at (50, 0))
def px(x):
    return (x - 50) / 640


def py(y):
    return (598 - y) / 598


fig = go.Figure()

for k in range(20):
    fig.add_trace(go.Scatter(
        x=times, y=pert_t[k], mode='lines+markers',
        line=dict(color=pert_colors[k], width=1),
        marker=dict(color=pert_colors[k], size=3.5, symbol='diamond'),
        showlegend=False, hoverinfo='skip'))
    fig.add_trace(go.Scatter(
        x=times[1:], y=pert_r[k], yaxis='y2', mode='lines+markers',
        line=dict(color=pert_colors[k], width=1),
        marker=dict(color=pert_colors[k], size=3.5, symbol='diamond'),
        showlegend=False, hoverinfo='skip'))

for y_t, y_r, col in [(gfs_t, gfs_r, '#000000'), (ctrl_t, ctrl_r, '#0000ff')]:
    fig.add_trace(go.Scatter(x=times, y=y_t, mode='lines', line=dict(color=col, width=3),
                             showlegend=False, hoverinfo='skip'))
    fig.add_trace(go.Scatter(x=times[1:], y=y_r, yaxis='y2', mode='lines',
                             line=dict(color=col, width=3), showlegend=False, hoverinfo='skip'))

fig.add_trace(go.Scatter(x=times, y=mean_t, mode='lines', line=dict(color='#ff0000', width=4),
                         showlegend=False, hoverinfo='skip'))
fig.add_trace(go.Scatter(x=times[1:], y=mean_r, yaxis='y2', mode='lines',
                         line=dict(color='#ff0000', width=4), showlegend=False, hoverinfo='skip'))

# snow band + flakes
snow_x = [times[i] for i in snow_steps]
fig.add_trace(go.Scatter(x=snow_x, y=[-39.9] * len(snow_x), mode='markers',
                         marker=dict(symbol='square', size=10, color='#ccf8fc'),
                         showlegend=False, hoverinfo='skip'))
fig.add_trace(go.Scatter(x=snow_x, y=[-41.15] * len(snow_x), mode='markers',
                         marker=dict(symbol='circle', size=11, color='#88ccf4',
                                     line=dict(color='#5cb4ec', width=1)),
                         showlegend=False, hoverinfo='skip'))
fig.add_trace(go.Scatter(x=snow_x, y=[-41.15] * len(snow_x), mode='markers',
                         marker=dict(symbol='asterisk-open', size=7, color='#eaf8ff',
                                     line=dict(color='#eaf8ff', width=1)),
                         showlegend=False, hoverinfo='skip'))

annotations = []
for i, p in zip(snow_steps, snow_pct):
    annotations.append(dict(x=times[i], y=-39.0, xref='x', yref='y', text=f'{p}%',
                            textangle=-90, showarrow=False,
                            font=dict(family=MONO, size=8, color='#0000ff')))


def label(x, y, text, size=10, anchor='left'):
    annotations.append(dict(x=px(x), y=py(y), xref='paper', yref='paper', text=text,
                            showarrow=False, xanchor=anchor, yanchor='middle',
                            font=dict(family=MONO, size=size, color='black')))


label(60, 215, 'Températures 2m')
label(60, 522, 'Précipitations')
label(20, 606, '(°C)')
label(709, 606, '(mm)')
label(74, 652, 'Moyenne des scénarios')
label(265, 636, 'Run de contrôle')
label(265, 647, 'Run GFS')
label(369, 652, '20 Perturbations')
label(29, 677, '<b>Diagramme des ensembles GEFS sur 384h : 50.8N 5.8E</b>', size=11.4)
label(29, 691, 'Température 2m (°C) , précipitations (mm)')
label(449, 672, 'Ensemble GEFS du 29/12/2012 - 12h')
label(449, 691, '<b>Copyright 2012 Meteociel.fr</b>', size=11.4)
# member numbers above the colour swatches, one monospace row (11 px per member)
label(470, 645, '<b>' + ' '.join(f'{k + 1:02d}' for k in range(20)) + '</b>', size=6.09)

shapes = [
    dict(type='line', xref='paper', yref='y', x0=0, x1=1, y0=0.2, y1=0.2,
         line=dict(color='black', width=1), layer='below'),
    dict(type='line', xref='paper', yref='y', x0=0, x1=1, y0=-0.2, y1=-0.2,
         line=dict(color='black', width=1), layer='below'),
    dict(type='line', xref='paper', yref='paper', x0=px(35), x1=px(66), y0=py(651), y1=py(651),
         line=dict(color='#ff0000', width=4)),
    dict(type='line', xref='paper', yref='paper', x0=px(225), x1=px(255), y0=py(637), y1=py(637),
         line=dict(color='#0000ff', width=4)),
    dict(type='line', xref='paper', yref='paper', x0=px(225), x1=px(255), y0=py(647), y1=py(647),
         line=dict(color='#000000', width=4)),
    dict(type='rect', xref='paper', yref='paper', x0=px(20), x1=px(440), y0=py(698), y1=py(667),
         line=dict(color='black', width=1.5), fillcolor='rgba(0,0,0,0)'),
]
for k, col in enumerate(pert_colors):
    x0 = 470 + 11 * k
    shapes.append(dict(type='rect', xref='paper', yref='paper', x0=px(x0), x1=px(x0 + 10),
                       y0=py(656), y1=py(650), line=dict(width=0), fillcolor=col))

fig.update_layout(
    width=740, height=700,
    margin=dict(l=50, r=50, t=0, b=102, autoexpand=False),
    plot_bgcolor='white', paper_bgcolor='white',
    font=dict(family=MONO, size=10, color='black'),
    xaxis=dict(
        type='date', range=[times[0], times[-1]],
        tickvals=list(day_ticks), ticktext=day_labels, tickangle=-90,
        tickfont=dict(family=MONO, size=9),
        ticklabelshift=6,
        showgrid=True, gridcolor='#c0c0c0', gridwidth=1,
        showline=True, linecolor='black', linewidth=2,
        ticks='outside', ticklen=3, tickcolor='black',
        zeroline=False,
    ),
    yaxis=dict(
        range=[-42.571, 42.857], tickvals=temp_ticks, ticktext=[str(v) for v in temp_ticks],
        tickfont=dict(family=MONO, size=10),
        showgrid=True, gridcolor='#c0c0c0', gridwidth=1,
        showline=True, linecolor='black', linewidth=1.5,
        zeroline=False, ticks='', ticklabelstandoff=14,
    ),
    yaxis2=dict(
        range=[-7.571, 77.857], overlaying='y', side='right',
        tickvals=right_ticks, ticktext=[str(v) for v in right_ticks],
        tickfont=dict(family=MONO, size=10),
        showgrid=False, showline=True, linecolor='black', linewidth=1.5,
        zeroline=False, ticks='', ticklabelstandoff=16,
    ),
    shapes=shapes,
    annotations=annotations,
)

# page margin off so the 740x700 figure fills the window exactly
fig.write_html('out.html', config={'displayModeBar': False},
               post_script="document.body.style.margin='0px';")
